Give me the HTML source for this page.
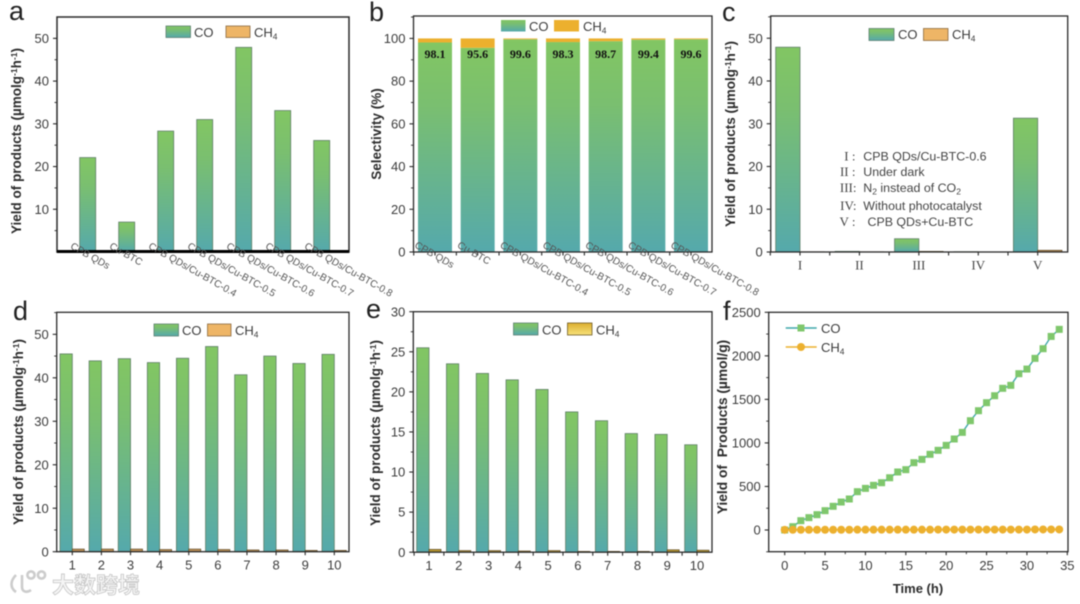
<!DOCTYPE html>
<html lang="en">
<head>
<meta charset="utf-8">
<title>Photocatalytic yield charts</title>
<style>
html,body{margin:0;padding:0;background:#fff;width:1080px;height:604px;overflow:hidden}
svg{display:block;filter:blur(.45px)}
text{font-family:"Liberation Sans",sans-serif;fill:#3c3c3c}
.yt{font-weight:700;font-size:13.5px;fill:#2c2c2c}
.leg{font-size:13px}
.sub{font-size:8.5px}
.sup{font-size:8.6px}
.letter{font-size:27px;fill:#222}
.note{font-size:12.4px;fill:#444}
.rom{font-family:"Liberation Serif",serif;font-size:13px;fill:#444}
.wm{font-family:"Noto Sans CJK SC","Liberation Sans",sans-serif;font-size:22px;font-weight:700;fill:#f5f5f5;stroke:#c6c6c6;stroke-width:.8px}
</style>
</head>
<body>
<svg id="chart" xmlns="http://www.w3.org/2000/svg" width="1080" height="604" viewBox="0 0 1080 604">
<defs>
<linearGradient id="coGrad" x1="0" y1="0" x2="0" y2="1"><stop offset="0" stop-color="#82c663"/><stop offset=".3" stop-color="#7abf70"/><stop offset="1" stop-color="#55a9ac"/></linearGradient>
<linearGradient id="goldGrad" x1="0" y1="0" x2="0" y2="1"><stop offset="0" stop-color="#dcae2f"/><stop offset="1" stop-color="#f7e27a"/></linearGradient>
</defs>

<g id="panel-a">
<text class="letter" x="9" y="20">a</text>
<text class="yt" transform="translate(21,141) rotate(-90)" text-anchor="middle">Yield of products (µmolg<tspan class="sup" dy="-4">-1</tspan><tspan dy="4">h</tspan><tspan class="sup" dy="-4">-1</tspan><tspan dy="4">)</tspan></text>
<rect x="166" y="26" width="24.5" height="11.5" fill="url(#coGrad)" stroke="#5c7f70" stroke-width=".8"/>
<text class="leg" x="194" y="37">CO</text>
<rect x="226" y="26" width="24" height="11.5" fill="#eeb566" stroke="#8a6a40" stroke-width=".8"/>
<text class="leg" x="254" y="37">CH<tspan class="sub" dy="2.5">4</tspan></text>
</g>

<g id="panel-b">
<text class="letter" x="369" y="21">b</text>
<text class="yt" transform="translate(381,134) rotate(-90)" text-anchor="middle">Selectivity (%)</text>
<rect x="501" y="20" width="24.5" height="11.5" fill="url(#coGrad)"/>
<text class="leg" x="529" y="31">CO</text>
<rect x="554" y="20" width="25" height="11.5" fill="#ecb02e"/>
<text class="leg" x="583" y="31">CH<tspan class="sub" dy="2.5">4</tspan></text>
</g>

<g id="panel-c">
<text class="letter" x="722" y="21">c</text>
<text class="yt" transform="translate(735,134) rotate(-90)" text-anchor="middle">Yield of products (µmolg<tspan class="sup" dy="-4">-1</tspan><tspan dy="4">h</tspan><tspan class="sup" dy="-4">-1</tspan><tspan dy="4">)</tspan></text>
<rect x="869" y="28.5" width="25" height="12" fill="url(#coGrad)" stroke="#5c7f70" stroke-width=".8"/>
<text class="leg" x="898" y="39">CO</text>
<rect x="923.5" y="28.5" width="24.5" height="12" fill="#eeb566" stroke="#8a6a40" stroke-width=".8"/>
<text class="leg" x="952" y="39">CH<tspan class="sub" dy="2.5">4</tspan></text>
<g>
<text class="rom" x="855.5" y="160.5" text-anchor="end">I :</text>
<text class="note" x="863.3" y="160.5">CPB QDs/Cu-BTC-0.6</text>
<text class="rom" x="855.5" y="176" text-anchor="end">II :</text>
<text class="note" x="863.3" y="176">Under dark</text>
<text class="rom" x="856.5" y="192" text-anchor="end">III:</text>
<text class="note" x="863.3" y="192">N<tspan class="sub" dy="2.5">2</tspan><tspan dy="-2.5"> instead of CO</tspan><tspan class="sub" dy="2.5">2</tspan></text>
<text class="rom" x="856.5" y="210" text-anchor="end">IV:</text>
<text class="note" x="863.3" y="210">Without photocatalyst</text>
<text class="rom" x="855.5" y="226" text-anchor="end">V :</text>
<text class="note" x="867.5" y="226">CPB QDs+Cu-BTC</text>
</g>
</g>

<g id="panel-d">
<text class="letter" x="13" y="320">d</text>
<text class="yt" transform="translate(23,432) rotate(-90)" text-anchor="middle">Yield of products (µmolg<tspan class="sup" dy="-4">-1</tspan><tspan dy="4">h</tspan><tspan class="sup" dy="-4">-1</tspan><tspan dy="4">)</tspan></text>
<rect x="154" y="324" width="24.5" height="12" fill="url(#coGrad)" stroke="#5c7f70" stroke-width=".8"/>
<text class="leg" x="182" y="335">CO</text>
<rect x="207.5" y="324" width="23.5" height="12" fill="#eeb566" stroke="#8a6a40" stroke-width=".8"/>
<text class="leg" x="235" y="335">CH<tspan class="sub" dy="2.5">4</tspan></text>
</g>

<g id="panel-e">
<text class="letter" x="366" y="318">e</text>
<text class="yt" transform="translate(380,433) rotate(-90)" text-anchor="middle">Yield of products (µmolg<tspan class="sup" dy="-4">-1</tspan><tspan dy="4">h</tspan><tspan class="sup" dy="-4">-1</tspan><tspan dy="4">)</tspan></text>
<rect x="513.5" y="323" width="24.5" height="12" fill="url(#coGrad)" stroke="#5c7f70" stroke-width=".8"/>
<text class="leg" x="542" y="334.5">CO</text>
<rect x="567.5" y="323" width="24.5" height="12" fill="url(#goldGrad)" stroke="#6e5a25" stroke-width=".8"/>
<text class="leg" x="596" y="334.5">CH<tspan class="sub" dy="2.5">4</tspan></text>
</g>

<g id="panel-f">
<text class="letter" x="723" y="320">f</text>
<text class="yt" transform="translate(727,427) rotate(-90)" text-anchor="middle" style="font-size:13.8px">Yield of &#160;Products (µmol/g)</text>
<text class="yt" x="918" y="593" text-anchor="middle" style="font-size:13px">Time (h)</text>
</g>

<g>
<g fill="none" stroke="#cccccc" stroke-width="2.6">
<path d="M16 575 C10 581 10 588 16 592"/>
<path d="M22 575 L22 587 C22 592 27 593 31 590"/>
<circle cx="31" cy="575" r="3.6"/>
<circle cx="41.5" cy="575" r="3.6"/>
</g>
<text class="wm" x="52" y="593">大数跨境</text>
</g>
</svg>

<script>
// Panel a: yield by catalyst
const catalystLabels = ['CPB QDs','Cu-BTC','CPB QDs/Cu-BTC-0.4','CPB QDs/Cu-BTC-0.5','CPB QDs/Cu-BTC-0.6','CPB QDs/Cu-BTC-0.7','CPB QDs/Cu-BTC-0.8'];
const yieldCoA = [22.1,7,28.3,31,47.9,33.1,26.1];
const ticksA = [10,20,30,40,50];
// Panel b: selectivity
const selectivityCo = [98.1,95.6,99.6,98.3,98.7,99.4,99.6];
const selectivityCh4 = [1.9,4.4,0.4,1.7,1.3,0.6,0.4];
const ticksB = [0,20,40,60,80,100];
// Panel c: control experiments
const conditionLabels = ['I','II','III','IV','V'];
const yieldCoC = [47.9,0.15,3.1,0.05,31.3];
const yieldCh4C = [0.05,0.05,0.15,0.02,0.4];
const ticksC = [0,10,20,30,40,50];
// Panel d: cycle runs
const cycleLabels = ['1','2','3','4','5','6','7','8','9','10'];
const yieldCoD = [45.5,43.9,44.4,43.5,44.5,47.2,40.7,45,43.3,45.4];
const yieldCh4D = [0.6,0.6,0.6,0.5,0.6,0.5,0.4,0.4,0.3,0.3];
const ticksD = [0,10,20,30,40,50];
// Panel e: cycle runs
const yieldCoE = [25.5,23.5,22.3,21.5,20.3,17.5,16.4,14.8,14.7,13.4];
const yieldCh4E = [0.35,0.2,0.2,0.15,0.2,0.1,0.1,0.1,0.3,0.25];
const ticksE = [0,5,10,15,20,25,30];
// Panel f: time course
const hours = [0,1,2,3,4,5,6,7,8,9,10,11,12,13,14,15,16,17,18,19,20,21,22,23,24,25,26,27,28,29,30,31,32,33,34];
const productCo = [0,38,107,142,176,222,272,321,356,440,478,513,543,600,666,693,773,811,869,915,972,1045,1121,1255,1370,1462,1542,1627,1661,1795,1848,1971,2082,2223,2304];
const productCh4 = [2,3,3,3,3,3,3,3,3,4,4,4,4,4,4,4,4,4,4,5,5,5,5,5,5,5,5,5,5,5,5,6,6,6,6];
const ticksFY = [0,500,1000,1500,2000,2500];
const ticksFX = [0,5,10,15,20,25,30,35];

const NS = 'http://www.w3.org/2000/svg';
function mk(parent, tag, attrs, txt) {
  const el = document.createElementNS(NS, tag);
  for (const k in attrs) el.setAttribute(k, attrs[k]);
  if (txt !== undefined) el.textContent = txt;
  parent.appendChild(el);
  return el;
}
function linear(d0, d1, r0, r1) { return v => r0 + (v - d0) * (r1 - r0) / (d1 - d0); }

function frame(g, b, sw) {
  const el = mk(g, 'rect', {x:b.l, y:b.t, width:b.r-b.l, height:b.b-b.t, fill:'none', stroke:'#2a2a2a', 'stroke-width':sw||1.3});
  
  
}
function yAxis(g, b, y, ticks, minorEvery) {
  ticks.forEach((t, i) => {
    const tick = mk(g, 'line', {x1:b.l-4, x2:b.l, y1:y(t), y2:y(t), stroke:'#2a2a2a', 'stroke-width':1.1});
    
    
    const lab = mk(g, 'text', {x:b.l-8, y:y(t)+4.6, 'text-anchor':'end', 'font-size':13}, String(t));
    
    
    const m = t + minorEvery;
    if (y(m) > b.t) {
      const minor = mk(g, 'line', {x1:b.l-2.5, x2:b.l, y1:y(m), y2:y(m), stroke:'#2a2a2a', 'stroke-width':.9});
      
      
    }
  });
}
function xTicks(g, b, positions) {
  positions.forEach(px => {
    const tick = mk(g, 'line', {x1:px, x2:px, y1:b.b, y2:b.b+3.5, stroke:'#2a2a2a', 'stroke-width':1.1});
    
    
  });
}
function xLabels(g, positions, labels, base, cls) {
  labels.forEach((t, i) => {
    const attrs = {x:positions[i], y:base, 'text-anchor':'middle', 'font-size':13};
    if (cls) attrs['class'] = cls;
    const lab = mk(g, 'text', attrs, t);
    
    
  });
}
function slanted(g, positions, dx, base) {
  catalystLabels.forEach((t, i) => {
    const lab = mk(g, 'text', {transform:'translate('+(positions[i]+dx)+','+base+') rotate(29.5)', 'font-size':10, style:'fill:#555'}, t);
    
    
  });
}
function coBar(g, x, w, y, base, v, stroke) {
  const attrs = {x:x, y:y(v), width:w, height:Math.max(0, base-y(v)), fill:'url(#coGrad)'};
  if (stroke) { attrs.stroke = '#5f7f68'; attrs['stroke-width'] = .8; }
  const bar = mk(g, 'rect', attrs);
  
  
}
function ch4Bar(g, x, w, y, base, v, fill) {
  const bar = mk(g, 'rect', {x:x, y:y(v), width:w, height:Math.max(0, base-y(v)), fill:fill, stroke:'#5e4a25', 'stroke-width':.7});
  
  
}

/* panel a */
(function () {
  const g = document.getElementById('panel-a');
  const b = {l:57, r:349, t:17, b:252};
  const y = linear(0, 55, 252, 17);
  const xs = yieldCoA.map((_, i) => linear(0, 6, 87.7, 321.7)(i));
  yieldCoA.forEach((v, i) => coBar(g, xs[i]-8, 16, y, b.b, v, true));
  frame(g, b, 1.5);
  yAxis(g, b, y, ticksA, 5);
  const minorLow = mk(g, 'line', {x1:b.l-2.5, x2:b.l, y1:y(5), y2:y(5), stroke:'#2a2a2a', 'stroke-width':.9});
  
  
  const axis = mk(g, 'line', {x1:b.l, x2:b.r, y1:251.5, y2:251.5, stroke:'#000', 'stroke-width':3});
  
  
  slanted(g, xs, -18, 248);
})();

/* panel b */
(function () {
  const g = document.getElementById('panel-b');
  const b = {l:413.5, r:712, t:16, b:252};
  const y = linear(0, 110.5, 252, 16);
  const xs = selectivityCo.map((_, i) => linear(0, 6, 435, 691)(i));
  selectivityCo.forEach((v, i) => {
    coBar(g, xs[i]-17, 34, y, b.b, v, false);
    const cap = mk(g, 'rect', {x:xs[i]-17, y:y(v+selectivityCh4[i]), width:34, height:y(v)-y(v+selectivityCh4[i]), fill:'#ecb02e'});
    
    
    const val = mk(g, 'text', {x:xs[i], y:58, 'text-anchor':'middle', style:'font-family:\'Liberation Serif\',serif;font-weight:700;font-size:12px;fill:#111'}, v.toFixed(1));
    
    
  });
  frame(g, b);
  yAxis(g, b, y, ticksB, 10);
  xTicks(g, b, xs.map(x => x-21.3).concat(xs));
  slanted(g, xs, -21, 247);
})();

/* panel c */
(function () {
  const g = document.getElementById('panel-c');
  const b = {l:770.7, r:1067.7, t:16, b:252};
  const y = linear(0, 55.2, 252, 16);
  const xs = conditionLabels.map((_, i) => linear(0, 4, 800, 1037.7)(i));
  yieldCoC.forEach((v, i) => coBar(g, xs[i]-24.3, 24.3, y, b.b, v, true));
  yieldCh4C.forEach((v, i) => ch4Bar(g, xs[i], 24.3, y, b.b, v, '#b98a50'));
  frame(g, b);
  yAxis(g, b, y, ticksC, 5);
  xTicks(g, b, xs.concat(xs.map(x => x-29.7)));
  xLabels(g, xs, conditionLabels, 269.5, 'rom');
})();

/* panel d */
(function () {
  const g = document.getElementById('panel-d');
  const b = {l:56.7, r:349, t:312.3, b:551.7};
  const y = linear(0, 55, 551.7, 312.6);
  const xs = cycleLabels.map((_, i) => linear(0, 9, 72.3, 334.3)(i));
  yieldCoD.forEach((v, i) => coBar(g, xs[i]-12.3, 12.3, y, b.b, v, true));
  yieldCh4D.forEach((v, i) => ch4Bar(g, xs[i], 12, y, b.b, v, '#c09256'));
  frame(g, b);
  yAxis(g, b, y, ticksD, 5);
  xTicks(g, b, xs);
  xLabels(g, xs, cycleLabels, 569.5);
})();

/* panel e */
(function () {
  const g = document.getElementById('panel-e');
  const b = {l:413.3, r:712, t:311.7, b:552.2};
  const y = linear(0, 30, 552.2, 311.7);
  const xs = cycleLabels.map((_, i) => linear(0, 9, 429, 697)(i));
  yieldCoE.forEach((v, i) => coBar(g, xs[i]-12.3, 12.3, y, b.b, v, true));
  yieldCh4E.forEach((v, i) => ch4Bar(g, xs[i], 12, y, b.b, v, '#b8982f'));
  frame(g, b);
  yAxis(g, b, y, ticksE, 2.5);
  xTicks(g, b, xs.concat(xs.map(x => x-14.9)));
  xLabels(g, xs, cycleLabels, 570);
})();

/* panel f */
(function () {
  const g = document.getElementById('panel-f');
  const b = {l:768.7, r:1068, t:312.3, b:551.7};
  const y = linear(0, 2500, 530, 312.3);
  const x = linear(0, 35, 784.7, 1067.3);
  frame(g, b);
  yAxis(g, b, y, ticksFY, 250);
  xTicks(g, b, ticksFX.map(x));
  xLabels(g, ticksFX.map(x), ticksFX.map(String), 570);
  const minorX = ticksFX.slice(0, -1).map(t => x(t + 2.5));
  minorX.forEach(px => {
    const tick = mk(g, 'line', {x1:px, x2:px, y1:b.b, y2:b.b+2.5, stroke:'#2a2a2a', 'stroke-width':.9});
    
    
  });
  const lowMinor = mk(g, 'line', {x1:b.l-2.5, x2:b.l, y1:y(-250), y2:y(-250), stroke:'#2a2a2a', 'stroke-width':.9});
  
  

  const coLine = mk(g, 'polyline', {points:hours.map((h, i) => x(h)+','+y(productCo[i])).join(' '), fill:'none', stroke:'#3fa8aa', 'stroke-width':1.4});
  
  
  hours.forEach((h, i) => {
    const p = mk(g, 'rect', {x:x(h)-3.5, y:y(productCo[i])-3.5, width:7, height:7, fill:'#7fc76c'});
    
    
  });
  const chLine = mk(g, 'polyline', {points:hours.map((h, i) => x(h)+','+y(productCh4[i])).join(' '), fill:'none', stroke:'#ecb02e', 'stroke-width':1.4});
  
  
  hours.forEach((h, i) => {
    const p = mk(g, 'circle', {cx:x(h), cy:y(productCh4[i]), r:4, fill:'#ecb02e'});
    
    
  });

  /* legend */
  const l1 = mk(g, 'line', {x1:785.7, x2:816.7, y1:328, y2:328, stroke:'#3fa8aa', 'stroke-width':1.4});
  
  
  const m1 = mk(g, 'rect', {x:797.5, y:324.5, width:7, height:7, fill:'#7fc76c'});
  
  
  const t1 = mk(g, 'text', {x:821, y:333, 'class':'leg'}, 'CO');
  
  
  const l2 = mk(g, 'line', {x1:785.7, x2:816.7, y1:347, y2:347, stroke:'#ecb02e', 'stroke-width':1.4});
  
  
  const m2 = mk(g, 'circle', {cx:801, cy:347, r:4, fill:'#ecb02e'});
  
  
  const t2 = mk(g, 'text', {x:821, y:352, 'class':'leg'}, 'CH');
  
  
  mk(t2, 'tspan', {'class':'sub', dy:2.5}, '4');
})();
</script>
</body>
</html>
